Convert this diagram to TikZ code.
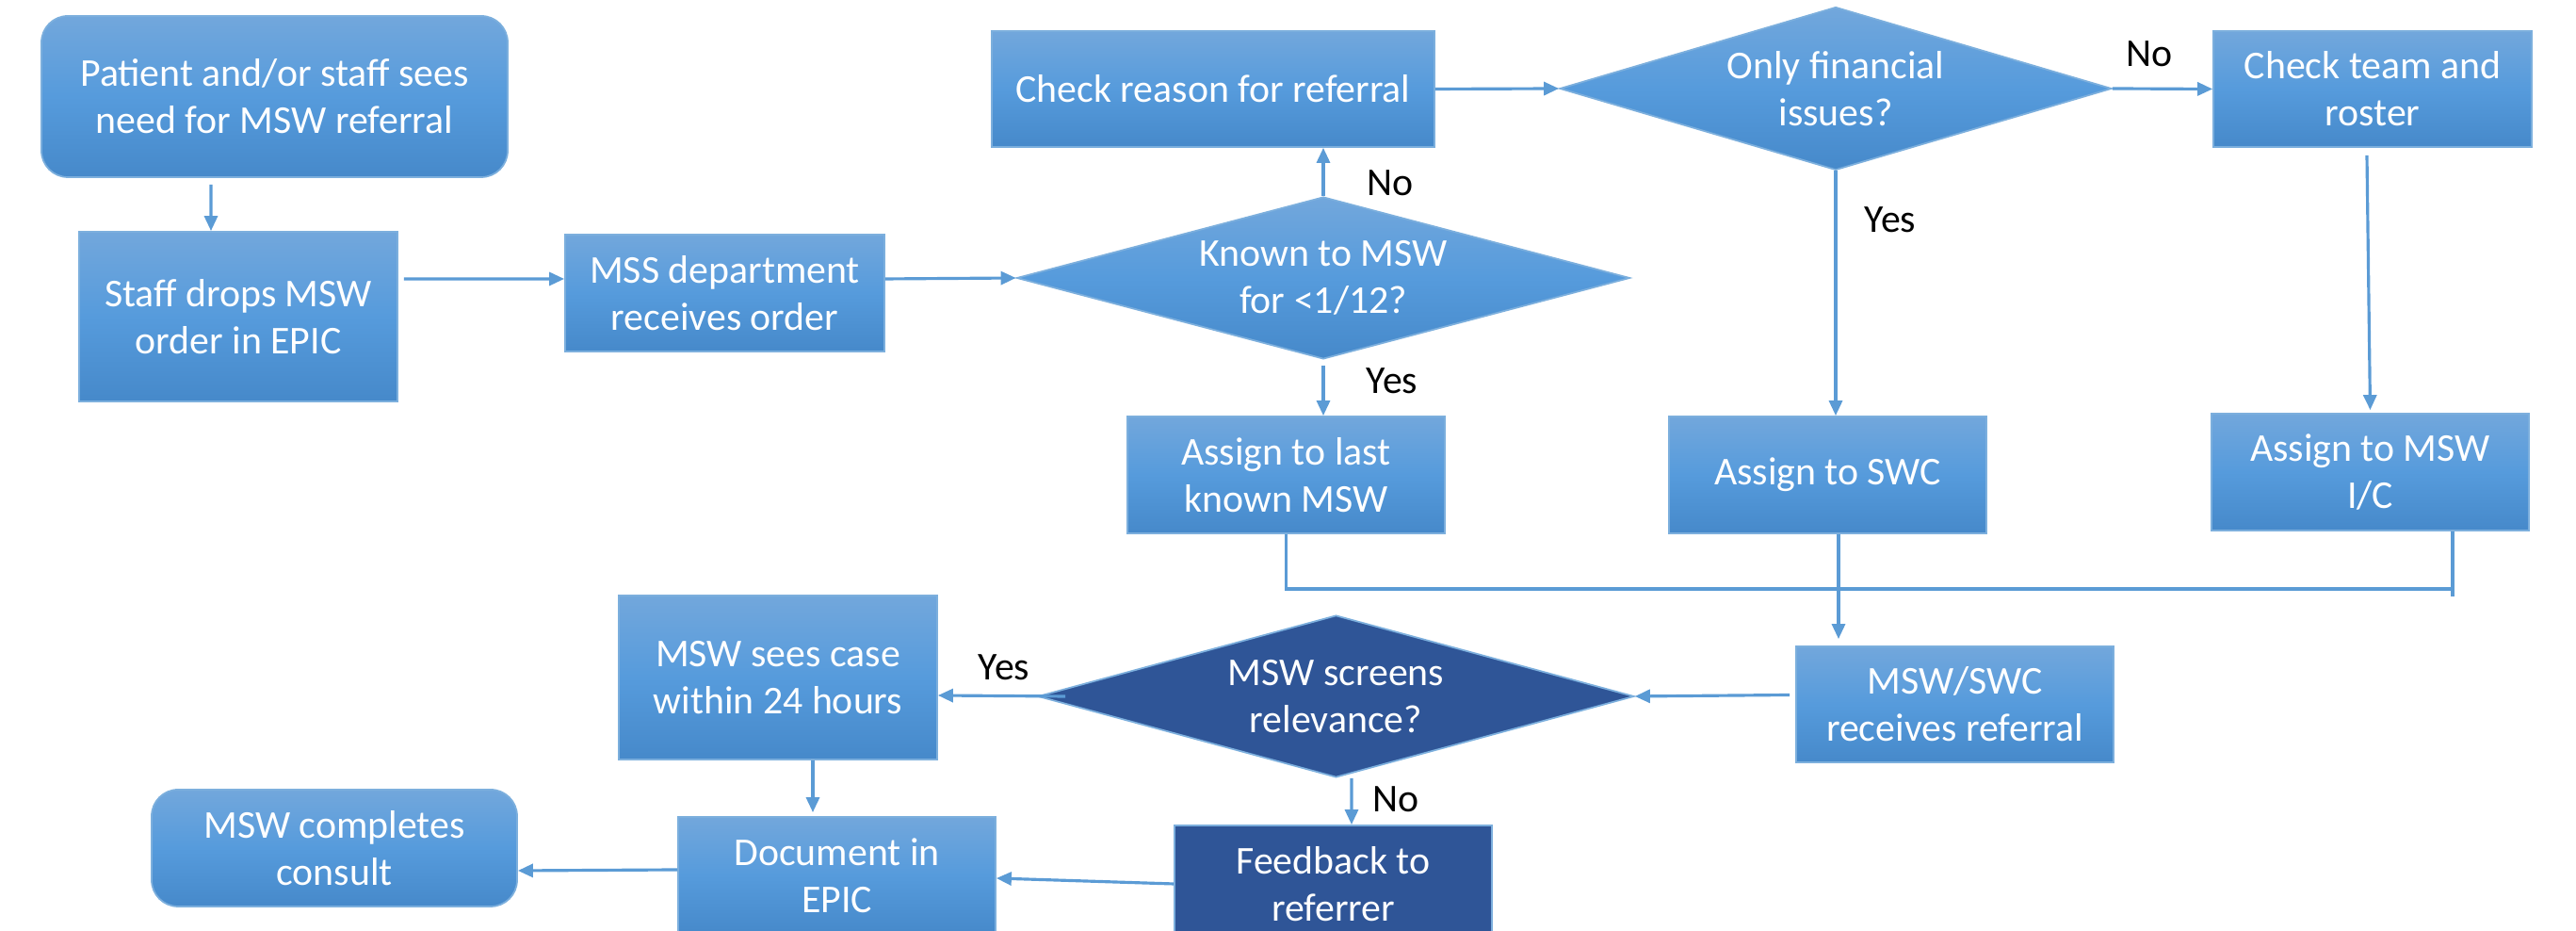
\documentclass[tikz,border=0pt]{standalone}
\usepackage{fontspec}
\setmainfont{Carlito}
\usepackage{tikz}
\usetikzlibrary{calc,shapes.geometric,arrows.meta}
\definecolor{boxtop}{RGB}{114,167,220}
\definecolor{boxmid}{RGB}{86,155,220}
\definecolor{boxbot}{RGB}{70,137,202}
\definecolor{darkblue}{RGB}{47,85,151}
\definecolor{linkblue}{RGB}{91,155,213}
\tikzset{
	stepbox/.style={rectangle, draw=linkblue!80, line width=0.5pt, top color=boxtop, bottom color=boxbot, middle color=boxmid, text=white, align=center, inner sep=0pt, font=\fontsize{11.9}{14.3}\selectfont},
	roundbox/.style={stepbox, rounded corners=0.28cm},
	darkbox/.style={rectangle, draw=linkblue!80, line width=0.5pt, fill=darkblue, text=white, align=center, inner sep=0pt, font=\fontsize{11.9}{14.3}\selectfont},
	decision/.style={diamond, aspect=3.8, draw=linkblue!80, line width=0.5pt, top color=boxtop, bottom color=boxbot, middle color=boxmid, text=white, align=center, inner sep=0pt, font=\fontsize{11.9}{14.3}\selectfont},
	darkdecision/.style={diamond, aspect=3.8, draw=linkblue!80, line width=0.5pt, fill=darkblue, text=white, align=center, inner sep=0pt, font=\fontsize{11.9}{14.3}\selectfont},
	flow/.style={draw=linkblue, line width=0.9pt, -{Triangle[length=1.6mm, width=1.4mm]}},
	link/.style={draw=linkblue, line width=0.9pt},
	answer/.style={text=black, inner sep=0pt, font=\fontsize{11.9}{14.3}\selectfont}
}

\begin{document}
\begin{tikzpicture}
			%%%%% START %%%%%
			
			\useasboundingbox (0, 0) rectangle (27.35, 9.88);
			\clip (0, 0) rectangle (27.35, 9.88);
			
			\node[roundbox, minimum width=4.95cm, minimum height=1.71cm] (start) at (2.915, 8.855) {Patient and/or staff sees\\need for MSW referral};
			\node[stepbox, minimum width=3.38cm, minimum height=1.80cm] (staff) at (2.53, 6.52) {Staff drops MSW\\order in EPIC};
			\node[stepbox, minimum width=3.39cm, minimum height=1.24cm] (mss) at (7.695, 6.77) {MSS department\\receives order};
			\node[decision, minimum width=6.51cm, minimum height=1.72cm] (known) at (14.05, 6.93) {Known to MSW\\for <1/12?};
			
			\node[stepbox, minimum width=4.70cm, minimum height=1.23cm] (check) at (12.88, 8.935) {Check reason for referral};
			\node[decision, minimum width=5.86cm, minimum height=1.73cm] (only) at (19.49, 8.94) {Only financial\\issues?};
			\node[stepbox, minimum width=3.38cm, minimum height=1.23cm] (team) at (25.19, 8.935) {Check team and\\roster};
			
			\node[stepbox, minimum width=3.37cm, minimum height=1.24cm] (last) at (13.655, 4.84) {Assign to last\\known MSW};
			\node[stepbox, minimum width=3.37cm, minimum height=1.24cm] (swc) at (19.405, 4.84) {Assign to SWC};
			\node[stepbox, minimum width=3.37cm, minimum height=1.24cm] (ic) at (25.165, 4.87) {Assign to MSW\\I/C};
			
			\node[stepbox, minimum width=3.37cm, minimum height=1.23cm] (recv) at (20.755, 2.405) {MSW/SWC\\receives referral};
			\node[darkdecision, minimum width=6.33cm, minimum height=1.72cm] (screens) at (14.185, 2.49) {MSW screens\\relevance?};
			\node[stepbox, minimum width=3.38cm, minimum height=1.74cm] (sees) at (8.26, 2.69) {MSW sees case\\within 24 hours};
			
			\node[stepbox, minimum width=3.37cm, minimum height=1.24cm] (doc) at (8.885, 0.59) {Document in\\EPIC};
			\node[darkbox, minimum width=3.37cm, minimum height=1.24cm] (feedback) at (14.155, 0.50) {Feedback to\\referrer};
			\node[roundbox, minimum width=3.88cm, minimum height=1.24cm] (consult) at (3.55, 0.88) {MSW completes\\consult};
			
			\draw[flow] ([xshift=-0.675cm, yshift=-0.07cm]start.south) -- ([xshift=-0.29cm]staff.north);
			\draw[flow] ([xshift=0.06cm, yshift=0.4cm]staff.east) -- ([yshift=0.15cm]mss.west);
			\draw[flow] ([yshift=0.15cm]mss.east) -- (known.west);
			\draw[flow] (known.north) -- (known.north |- check.south);
			\draw[flow] ([yshift=-0.06cm]known.south) -- (known.south |- last.north);
			\draw[flow] (check.east) -- (only.west);
			\draw[flow] (only.east) -- (team.west);
			\draw[flow] (only.south) -- (only.south |- swc.north);
			\draw[flow] ([xshift=-0.06cm, yshift=-0.08cm]team.south) -- ([yshift=0.03cm]ic.north);
			
			\coordinate (join) at (19.52, 3.63);
			\coordinate (icdrop) at ([xshift=0.875cm]ic.south);
			\draw[link] (last.south) |- (join);
			\draw[link] (icdrop) -- ++(0, -0.69);
			\draw[link] (join) -- (join -| icdrop);
			\draw[flow] (join |- swc.south) -- ($(join |- recv.north)+(0, 0.07)$);
			
			\draw[flow] ([xshift=-0.06cm, yshift=0.1cm]recv.west) -- (screens.east);
			\draw[flow] ([xshift=0.3cm]screens.west) -- ([yshift=-0.19cm]sees.east);
			\draw[flow] ([xshift=0.165cm]screens.south) -- ([xshift=0.195cm]feedback.north);
			\draw[flow] ([xshift=0.37cm]sees.south) -- ([xshift=-0.255cm, yshift=0.04cm]doc.north);
			\draw[flow] (feedback.west) -- ([yshift=-0.03cm]doc.east);
			\draw[flow] ([yshift=0.06cm]doc.west) -- ([yshift=-0.24cm]consult.east);
			
			\node[answer] (noknown) at (14.76, 7.94) {No};
			\node[answer] (yesknown) at (14.78, 5.84) {Yes};
			\node[answer] (noonly) at (22.82, 9.31) {No};
			\node[answer] (yesonly) at (20.07, 7.55) {Yes};
			\node[answer] (yesscreen) at (10.66, 2.80) {Yes};
			\node[answer] (noscreen) at (14.82, 1.40) {No};
			
			%%%%% END %%%%%
\end{tikzpicture}
\end{document}
